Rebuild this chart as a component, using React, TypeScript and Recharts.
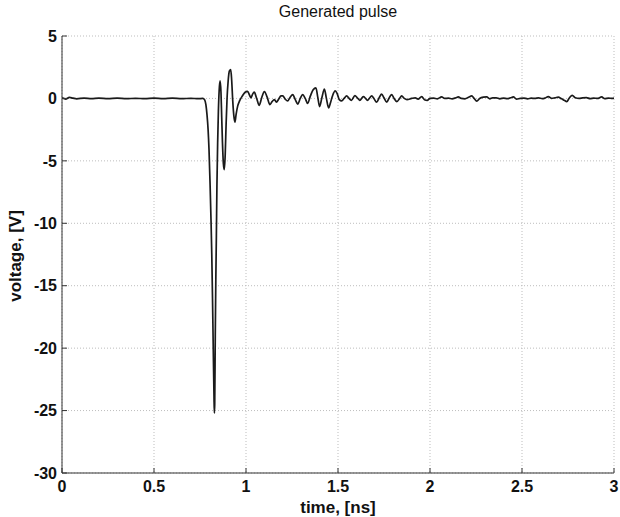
import { CartesianGrid, Line, LineChart, XAxis, YAxis } from "recharts";

const timeNs = [
  0, 0.02, 0.04, 0.06, 0.08, 0.12, 0.16, 0.2, 0.25, 0.3, 0.35, 0.4, 0.45, 0.5, 0.55, 0.6, 0.65, 0.7, 0.74, 0.765,
  0.775, 0.782, 0.788, 0.794, 0.799, 0.805, 0.81, 0.814, 0.818, 0.822, 0.826, 0.828, 0.83, 0.833, 0.836, 0.839,
  0.842, 0.846, 0.85, 0.854, 0.859, 0.864, 0.868, 0.872, 0.877, 0.882, 0.887, 0.892, 0.897, 0.903, 0.91, 0.917,
  0.922, 0.928, 0.934, 0.94, 0.946, 0.955, 0.965, 0.98, 0.995, 1.009, 1.018, 1.027, 1.036, 1.045, 1.058, 1.072,
  1.086, 1.1, 1.115, 1.13, 1.142, 1.155, 1.165, 1.178, 1.19, 1.2, 1.213, 1.226, 1.24, 1.254, 1.268, 1.281, 1.295,
  1.308, 1.322, 1.335, 1.35, 1.365, 1.38, 1.39, 1.4, 1.413, 1.426, 1.437, 1.449, 1.46, 1.47, 1.485, 1.495, 1.507,
  1.52, 1.533, 1.547, 1.56, 1.573, 1.592, 1.605, 1.618, 1.638, 1.65, 1.66, 1.683, 1.695, 1.71, 1.725, 1.737, 1.75,
  1.765, 1.78, 1.792, 1.805, 1.82, 1.835, 1.846, 1.86, 1.875, 1.9, 1.92, 1.935, 1.955, 1.97, 1.985, 2.0, 2.02, 2.04,
  2.063, 2.08, 2.1, 2.12, 2.14, 2.154, 2.17, 2.19, 2.21, 2.227, 2.24, 2.254, 2.27, 2.29, 2.308, 2.325, 2.34, 2.36,
  2.38, 2.4, 2.42, 2.438, 2.453, 2.47, 2.49, 2.51, 2.53, 2.55, 2.57, 2.59, 2.61, 2.625, 2.643, 2.66, 2.68, 2.697,
  2.715, 2.73, 2.743, 2.758, 2.773, 2.79, 2.81, 2.83, 2.85, 2.87, 2.89, 2.91, 2.933, 2.95, 2.97, 2.99, 3.0,
];

const voltageV = [
  0.05, -0.05, 0.08, 0.02, -0.03, 0.03, -0.02, 0.02, -0.02, 0.02, -0.02, 0.01, -0.02, 0.02, -0.01, 0.02, -0.02, 0.01, -0.02, 0,
  -0.1, -0.5, -1.3, -2.5, -4.1, -7, -9.8, -12.5, -16, -20, -23.8, -25.2, -24.5, -19, -14.5, -11,
  -7, -3.5, -1, 0.6, 1.4, 0.5, -1.5, -3.5, -5.2, -5.7, -4.5, -2, 0, 1.4, 2.2, 2.3,
  1.5, -0.2, -1.4, -1.9, -1.3, -0.6, -0.2, 0.2, 0.5, 0.57, 0.3, 0.05, 0.35, 0.5, 0, -0.55,
  0.1, 0.55, 0.1, -0.5, -0.25, -0.1, -0.3, -0.05, 0.2, 0.2, -0.05, -0.2, 0.1, 0.3, -0.1, -0.45, 0,
  0.3, 0, -0.4, 0.2, 0.7, 0.85, 0.1, -0.65, 0.1, 0.75, 0, -0.75, -0.3, 0.2, 0.6, 0.4, -0.1,
  -0.2, 0, 0.2, 0, -0.15, 0.22, 0.05, -0.15, 0.15, 0, -0.15, 0.2, 0, -0.3, 0.1, 0.35, 0.05,
  -0.3, 0.1, 0.3, 0, -0.25, 0, 0.2, 0, -0.1, 0, 0.05, -0.05, 0.15, -0.1, -0.15, 0, 0.02, -0.03,
  0.12, 0, 0.02, -0.03, 0.05, 0.12, 0, -0.03, 0.1, 0.2, 0, -0.22, 0, 0.1, 0.12, -0.03, 0.05, 0.05,
  -0.03, 0.03, -0.02, 0.05, 0.12, -0.05, 0, 0.03, -0.03, 0.02, 0, 0.05, -0.02, 0.03, 0.15, 0, 0.05, 0.1,
  -0.03, -0.15, -0.25, 0.05, 0.25, 0.05, 0, 0.05, 0.07, -0.02, 0.03, 0, 0.12, -0.02, 0.03, 0, 0.02,
];

const xTicks = [0, 0.5, 1, 1.5, 2, 2.5, 3];
const yTicks = [-30, -25, -20, -15, -10, -5, 0, 5];

const data = timeNs.map((t, i) => ({ t, v: voltageV[i] }));

const font = "Liberation Sans, Arial, sans-serif";
const tickStyle = { fill: "#111", fontSize: 16, fontWeight: 700, fontFamily: font };

export default function App() {
  return (
    <div style={{ position: "absolute", left: 0, top: 0, width: 620, height: 517, background: "#fff" }}>
      <LineChart width={620} height={517} data={data} margin={{ top: 36, right: 6, bottom: 0, left: 0 }}>
        <CartesianGrid xAxisId="b" yAxisId="l" stroke="#bdbdbd" strokeDasharray="1 2" />
        <XAxis
          xAxisId="b"
          dataKey="t"
          type="number"
          domain={[0, 3]}
          ticks={xTicks}
          height={44}
          tickSize={-5}
          tickMargin={13}
          tick={tickStyle}
          stroke="#333"
          allowDataOverflow
        />
        <XAxis
          xAxisId="t"
          dataKey="t"
          type="number"
          orientation="top"
          domain={[0, 3]}
          ticks={xTicks}
          height={0}
          tickSize={-5}
          tick={false}
          stroke="#333"
        />
        <YAxis
          yAxisId="l"
          type="number"
          domain={[-30, 5]}
          ticks={yTicks}
          width={62}
          tickSize={-5}
          tickMargin={10}
          tick={tickStyle}
          stroke="#333"
          allowDataOverflow
        />
        <YAxis
          yAxisId="r"
          type="number"
          orientation="right"
          domain={[-30, 5]}
          ticks={yTicks}
          width={0}
          tickSize={-5}
          tick={false}
          stroke="#333"
        />
        <Line
          xAxisId="b"
          yAxisId="l"
          dataKey="v"
          type="monotone"
          stroke="#1a1a1a"
          strokeWidth={1.7}
          dot={false}
          isAnimationActive={false}
        />
      </LineChart>
      <div
        style={{
          position: "absolute",
          left: 62,
          width: 552,
          top: 3,
          textAlign: "center",
          fontFamily: font,
          fontSize: 16,
          color: "#111",
        }}
      >
        Generated pulse
      </div>
      <div
        style={{
          position: "absolute",
          left: 62,
          width: 552,
          top: 498,
          textAlign: "center",
          fontFamily: font,
          fontSize: 17,
          fontWeight: 700,
          color: "#111",
        }}
      >
        time, [ns]
      </div>
      <div
        style={{
          position: "absolute",
          left: 16,
          top: 256,
          transform: "translate(-50%, -50%) rotate(-90deg)",
          whiteSpace: "nowrap",
          fontFamily: font,
          fontSize: 17,
          fontWeight: 700,
          color: "#111",
        }}
      >
        voltage, [V]
      </div>
    </div>
  );
}
